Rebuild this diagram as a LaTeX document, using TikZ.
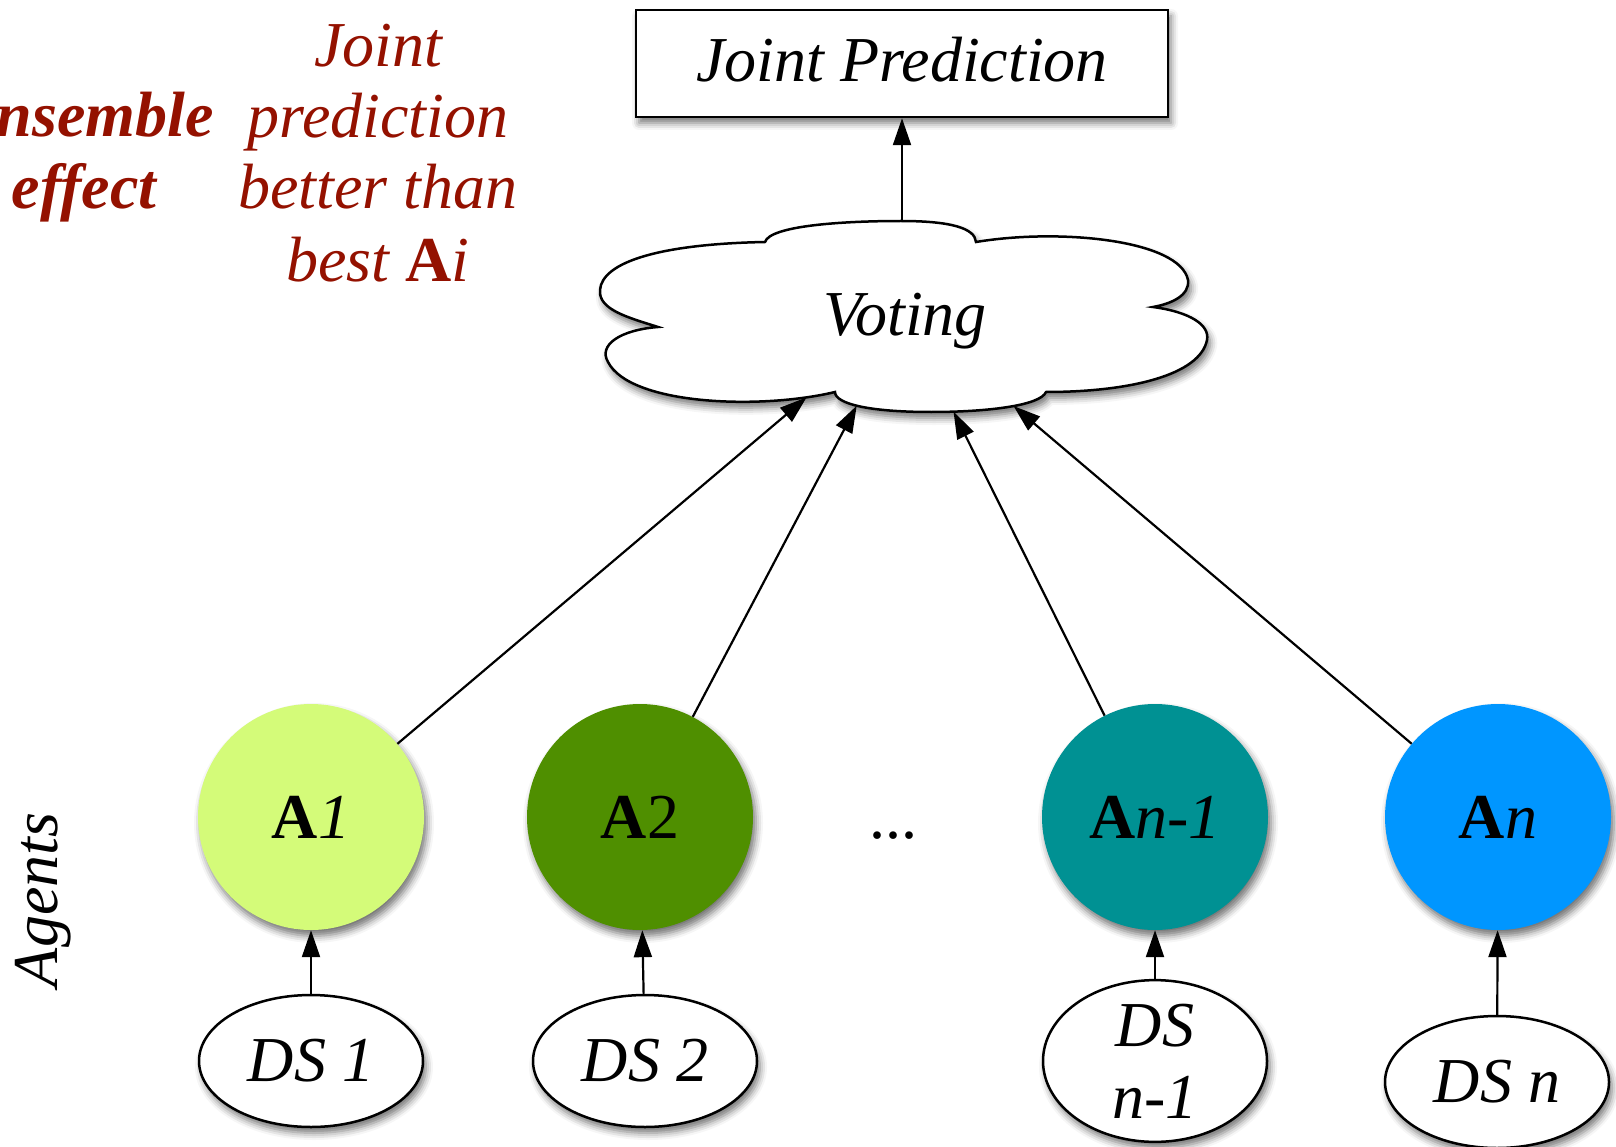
\documentclass[tikz,border=0pt]{standalone}
\usepackage{fontspec}
\setmainfont{Liberation Serif}
\usetikzlibrary{shapes.geometric,shadows.blur,intersections,arrows.meta}
\definecolor{cayenne}{HTML}{941100}
\definecolor{honeydew}{HTML}{D4FB79}
\definecolor{fern}{HTML}{4F8F00}
\definecolor{tealc}{HTML}{009193}
\definecolor{aqua}{HTML}{0096FF}
\begin{document}
\begin{tikzpicture}[x=1pt,y=-1pt,
  every node/.style={font=\fontsize{64}{72}\selectfont\itshape, inner sep=0pt},
  shad/.style={blur shadow={shadow xshift=3pt, shadow yshift=-6pt, shadow blur radius=7pt, shadow opacity=55}},
  agent/.style={circle, minimum size=226pt, shad, font=\fontsize{64}{72}\selectfont},
  dsnode/.style={ellipse, draw, line width=2.5pt, fill=white, minimum width=224pt, minimum height=132pt, shad, align=center},
  arr/.style={line width=2.2pt, -{Triangle[length=27pt,width=18pt,fill=black]}},
  redtxt/.style={text=cayenne, anchor=base},
]
\useasboundingbox (0,0) rectangle (1616,1147);
\clip (0,0) rectangle (1616,1147);

% Joint prediction box
\node[draw, line width=2.5pt, fill=white, shad, minimum width=532pt, minimum height=107pt,
      text height=44pt, text depth=7pt] (jp) at (902,63.5) {Joint Prediction};

% Voting cloud
\draw[name path=cloud, line width=2.5pt, fill=white, shad]
  (658,327) .. controls (630,318) and (598,310) .. (600,290)
  .. controls (602,262) and (660,244) .. (765,242)
  .. controls (770,226) and (840,221) .. (901,221)
  .. controls (950,221) and (975,228) .. (976,242)
  .. controls (1060,228) and (1180,240) .. (1188,280)
  .. controls (1190,296) and (1170,304) .. (1153,307)
  .. controls (1190,312) and (1210,325) .. (1207,340)
  .. controls (1200,375) and (1130,392) .. (1046,392)
  .. controls (1040,406) and (985,412) .. (931,412)
  .. controls (870,412) and (835,404) .. (835,392)
  .. controls (760,410) and (630,405) .. (608,362)
  .. controls (598,345) and (620,330) .. (658,327) -- cycle;
\node[anchor=base] (voting) at (905,335) {Voting};
\coordinate (vc) at (905,314);
\coordinate (ctop) at (902,222);
\draw[arr] (ctop) -- (jp.south);

% Agents
\node[agent, fill=honeydew] (A1) at (311,817) {\textbf{A}\textit{1}};
\node[agent, fill=fern] (A2) at (640,817) {\textbf{A}2};
\node[agent, fill=tealc] (An1) at (1155,817) {\textbf{A}\textit{n-1}};
\node[agent, fill=aqua] (An) at (1498,817) {\textbf{A}\textit{n}};
\node[anchor=base, font=\fontsize{64}{72}\selectfont] (dots) at (893,838) {...};

% Data sets
\node[dsnode] (D1) at (311,1061) {DS 1};
\node[dsnode] (D2) at (645,1061) {DS 2};
\node[dsnode] (D3) at (1155,1061) {DS\\n-1};
\node[dsnode] (D4) at (1497,1082) {DS n};

\draw[arr] (D1) -- (A1);
\draw[arr] (D2) -- (A2);
\draw[arr] (D3) -- (An1);
\draw[arr] (D4) -- (An);

\foreach \a/\v in {A1/v1, A2/v2, An1/v3, An/v4} {
  \path[name path=l\v] (\a) -- (vc);
  \path[name intersections={of=cloud and l\v, by=\v}];
  \draw[arr] (\a) -- (\v);
}

% Side labels
\node[rotate=90, anchor=base] (agents) at (57,900) {Agents};
\node[redtxt] (t1) at (378,67) {Joint};
\node[redtxt] (t2) at (378,138) {prediction};
\node[redtxt] (t3) at (378,209) {better than};
\node[redtxt] (t4) at (378,282) {best {\bfseries\upshape A}i};
\node[redtxt, font=\fontsize{64}{72}\selectfont\bfseries\itshape] (e1) at (84,137) {Ensemble};
\node[redtxt, font=\fontsize{64}{72}\selectfont\bfseries\itshape] (e2) at (84,209) {effect};
\end{tikzpicture}
\end{document}
